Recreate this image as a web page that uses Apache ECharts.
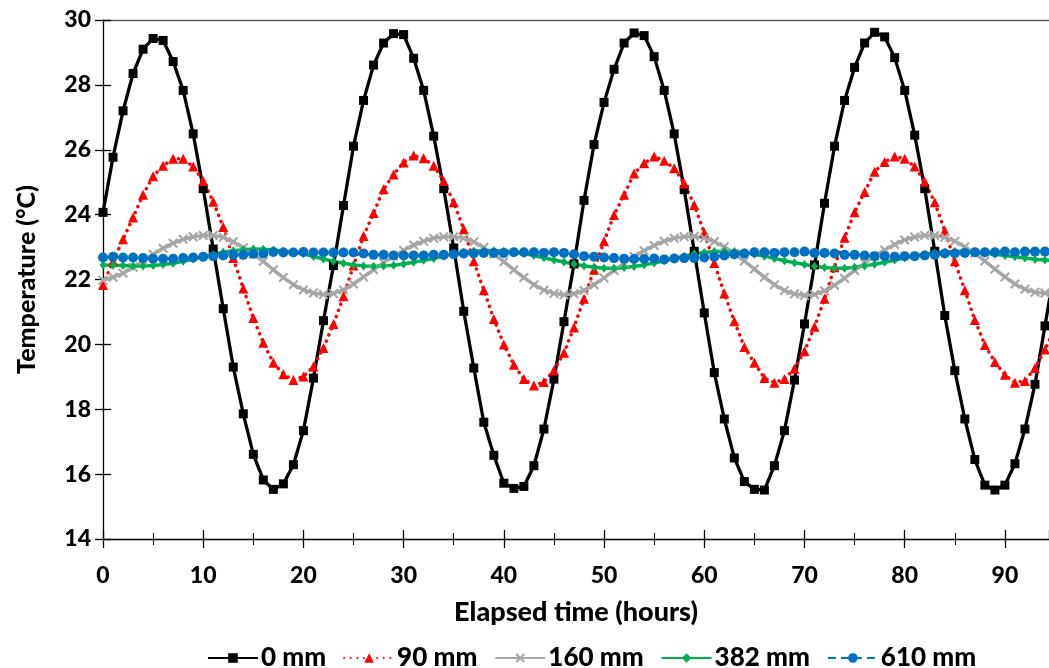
<!DOCTYPE html>
<html><head><meta charset="utf-8">
<script src="https://cdn.jsdelivr.net/npm/echarts@6/dist/echarts.min.js"></script>
<style>html,body{margin:0;padding:0;background:#fff}#c{width:1049px;height:668px}</style>
</head><body><div id="c"></div>
<script>
const hours = [0,1,2,3,4,5,6,7,8,9,10,11,12,13,14,15,16,17,18,19,20,21,22,23,24,25,26,27,28,29,30,31,32,33,34,35,36,37,38,39,40,41,42,43,44,45,46,47,48,49,50,51,52,53,54,55,56,57,58,59,60,61,62,63,64,65,66,67,68,69,70,71,72,73,74,75,76,77,78,79,80,81,82,83,84,85,86,87,88,89,90,91,92,93,94,95];
const seriesNames = ['0 mm','90 mm','160 mm','382 mm','610 mm'];
const xTicks = [0,10,20,30,40,50,60,70,80,90];
const yTicks = [14,16,18,20,22,24,26,28,30];
const t0mm = [24.07,25.77,27.20,28.35,29.10,29.43,29.37,28.72,27.83,26.49,
24.80,22.94,21.10,19.30,17.86,16.61,15.82,15.53,15.70,16.29,
17.34,18.96,20.73,22.43,24.28,26.11,27.52,28.61,29.29,29.58,
29.55,28.82,27.83,26.42,24.80,22.97,21.02,19.27,17.60,16.58,
15.72,15.56,15.62,16.26,17.39,18.93,20.70,22.48,24.44,26.16,
27.46,28.48,29.29,29.60,29.52,28.87,27.83,26.49,24.77,22.87,
20.97,19.13,17.70,16.50,15.77,15.53,15.51,16.26,17.34,18.90,
20.63,22.45,24.35,26.11,27.52,28.54,29.29,29.62,29.48,28.84,
27.83,26.45,24.80,22.87,20.89,19.19,17.70,16.45,15.66,15.51,
15.66,16.32,17.39,18.77,20.57,22.40];
const t90mm = [21.83,22.56,23.24,23.91,24.61,25.18,25.51,25.72,25.72,25.48,
25.04,24.40,23.62,22.66,21.72,20.81,20.05,19.43,19.08,18.90,
19.01,19.32,19.89,20.63,21.48,22.43,23.34,24.05,24.78,25.24,
25.61,25.82,25.74,25.51,25.04,24.38,23.55,22.56,21.67,20.78,
20.00,19.37,18.93,18.73,18.84,19.20,19.74,20.52,21.41,22.30,
23.18,23.99,24.61,25.27,25.58,25.79,25.66,25.43,24.96,24.30,
23.44,22.51,21.57,20.71,19.92,19.43,18.96,18.82,18.93,19.25,
19.79,20.54,21.41,22.38,23.29,24.07,24.70,25.32,25.62,25.79,
25.72,25.48,25.01,24.38,23.50,22.56,21.67,20.75,19.98,19.46,
19.06,18.82,18.87,19.27,19.84,20.50];
const t160mm = [21.98,22.07,22.19,22.38,22.58,22.78,22.96,23.12,23.24,23.32,
23.36,23.36,23.30,23.16,22.98,22.78,22.56,22.30,22.06,21.84,
21.68,21.58,21.54,21.57,21.68,21.86,22.08,22.30,22.52,22.72,
22.90,23.06,23.18,23.27,23.32,23.32,23.27,23.16,22.99,22.78,
22.55,22.30,22.06,21.84,21.67,21.57,21.53,21.56,21.66,21.84,
22.05,22.28,22.50,22.71,22.89,23.05,23.18,23.27,23.32,23.33,
23.28,23.17,23.01,22.80,22.57,22.32,22.07,21.84,21.66,21.55,
21.51,21.54,21.65,21.82,22.04,22.28,22.51,22.72,22.91,23.08,
23.22,23.31,23.36,23.36,23.30,23.18,23.01,22.80,22.57,22.32,
22.08,21.86,21.70,21.61,21.58,21.60];
const t382mm = [22.45,22.44,22.43,22.42,22.42,22.43,22.46,22.50,22.56,22.63,
22.70,22.77,22.84,22.89,22.92,22.94,22.93,22.91,22.88,22.84,
22.79,22.71,22.63,22.56,22.50,22.45,22.42,22.41,22.42,22.44,
22.48,22.53,22.59,22.65,22.72,22.79,22.84,22.87,22.89,22.89,
22.87,22.84,22.80,22.74,22.67,22.60,22.54,22.48,22.42,22.38,
22.35,22.35,22.37,22.40,22.45,22.51,22.58,22.65,22.72,22.79,
22.83,22.86,22.87,22.86,22.83,22.78,22.72,22.65,22.58,22.52,
22.46,22.41,22.37,22.35,22.35,22.38,22.42,22.47,22.53,22.60,
22.67,22.73,22.78,22.82,22.85,22.86,22.86,22.84,22.81,22.78,
22.74,22.70,22.66,22.62,22.60,22.58];
const t610mm = [22.68,22.70,22.68,22.68,22.66,22.64,22.64,22.64,22.66,22.68,
22.70,22.72,22.74,22.76,22.76,22.79,22.80,22.85,22.83,22.83,
22.85,22.83,22.83,22.83,22.83,22.83,22.80,22.76,22.76,22.74,
22.74,22.74,22.74,22.76,22.76,22.78,22.80,22.80,22.82,22.82,
22.82,22.84,22.84,22.84,22.82,22.84,22.82,22.78,22.72,22.70,
22.68,22.66,22.64,22.63,22.63,22.65,22.62,22.65,22.66,22.66,
22.68,22.70,22.74,22.78,22.80,22.84,22.84,22.82,22.84,22.84,
22.86,22.82,22.82,22.80,22.76,22.76,22.74,22.72,22.72,22.70,
22.72,22.72,22.74,22.76,22.80,22.80,22.82,22.84,22.84,22.84,
22.86,22.84,22.86,22.86,22.86,22.86];

const FONT = 'Lato';
const FW = 900;
const XMIN = xTicks[0], XMAX = 94.4, YMIN = yTicks[0], YMAX = yTicks[yTicks.length-1];
const pair = arr => hours.map((h, i) => [h, arr[i]]);
const crossPath = 'path://M0,1.5 L1.5,0 L10,8.5 L8.5,10 Z M8.5,0 L10,1.5 L1.5,10 L0,8.5 Z';

function xAx(extra) {
  return Object.assign({type:'value', min:XMIN, max:XMAX, interval:10, gridIndex:0,
    splitLine:{show:false}, axisLabel:{show:false}, axisTick:{show:false}, axisLine:{show:false}}, extra);
}
function yAx(extra) {
  return Object.assign({type:'value', min:YMIN, max:YMAX, interval:2, gridIndex:0,
    splitLine:{show:false}, axisLabel:{show:false}, axisTick:{show:false}, axisLine:{show:false}}, extra);
}

const chart = echarts.init(document.getElementById('c'), null, {renderer:'canvas'});
chart.setOption({
  animation:false,
  backgroundColor:'#fff',
  textStyle:{fontFamily:FONT},
  grid:{left:103, right:-2, top:20, bottom:129, containLabel:false},
  legend:{
    data:seriesNames, top:640, left:202, itemWidth:50, itemHeight:12, itemGap:17,
    textStyle:{fontFamily:FONT, fontWeight:FW, fontSize:26, color:'#000', padding:[0,0,0,-2]}
  },
  xAxis:[
    xAx({position:'bottom', axisLine:{show:true, onZero:false, lineStyle:{color:'#000', width:1.3}},
      axisTick:{show:true, inside:false, length:9, lineStyle:{color:'#000', width:1.3}},
      axisLabel:{show:true, showMaxLabel:false, margin:25, fontFamily:FONT, fontWeight:FW, fontSize:23, color:'#000'},
      name:'Elapsed time (hours)', nameLocation:'middle', nameGap:60,
      nameTextStyle:{fontFamily:FONT, fontWeight:FW, fontSize:27, color:'#000'}}),
    xAx({position:'bottom', axisTick:{show:true, inside:true, length:9, lineStyle:{color:'#000', width:1.3}}}),
    xAx({position:'bottom', interval:5, axisTick:{show:true, inside:false, length:6, lineStyle:{color:'#000', width:1}}}),
    xAx({position:'bottom', interval:5, axisTick:{show:true, inside:true, length:6, lineStyle:{color:'#000', width:1}}}),
    xAx({position:'top', axisLine:{show:true, onZero:false, lineStyle:{color:'#595959', width:1.3}}})
  ],
  yAxis:[
    yAx({position:'left', axisLine:{show:true, onZero:false, lineStyle:{color:'#000', width:1.3}},
      axisTick:{show:true, inside:false, length:8, lineStyle:{color:'#000', width:1.3}},
      axisLabel:{show:true, margin:12, fontFamily:FONT, fontWeight:FW, fontSize:23, color:'#000'},
      name:'Temperature (°C)', nameLocation:'middle', nameGap:64, nameRotate:90,
      nameTextStyle:{fontFamily:FONT, fontWeight:FW, fontSize:25, color:'#000'}}),
    yAx({position:'left', axisTick:{show:true, inside:true, length:8, lineStyle:{color:'#000', width:1.3}}})
  ],
  series:[
    {name:seriesNames[0], type:'line', data:pair(t0mm), symbol:'rect', symbolSize:9,
      lineStyle:{color:'#000', width:3.3}, itemStyle:{color:'#000'}},
    {name:seriesNames[1], type:'line', data:pair(t90mm), symbol:'triangle', symbolSize:10,
      lineStyle:{color:'#FF0000', width:3.5, type:[0.1,6.5], cap:'round'}, itemStyle:{color:'#FF0000'}},
    {name:seriesNames[2], type:'line', data:pair(t160mm), symbol:crossPath, symbolSize:10,
      lineStyle:{color:'#A6A6A6', width:3.5}, itemStyle:{color:'#A6A6A6'}},
    {name:seriesNames[3], type:'line', data:pair(t382mm), symbol:'diamond', symbolSize:[7,9],
      lineStyle:{color:'#00B050', width:3.5}, itemStyle:{color:'#00B050'}},
    {name:seriesNames[4], type:'line', data:pair(t610mm), symbol:'circle', symbolSize:10,
      lineStyle:{color:'#0070C0', width:2.5, type:[8,5]}, itemStyle:{color:'#0070C0'}}
  ].map(s => Object.assign({xAxisIndex:0, yAxisIndex:0, showSymbol:true, smooth:false, clip:true}, s))
});
</script></body></html>
